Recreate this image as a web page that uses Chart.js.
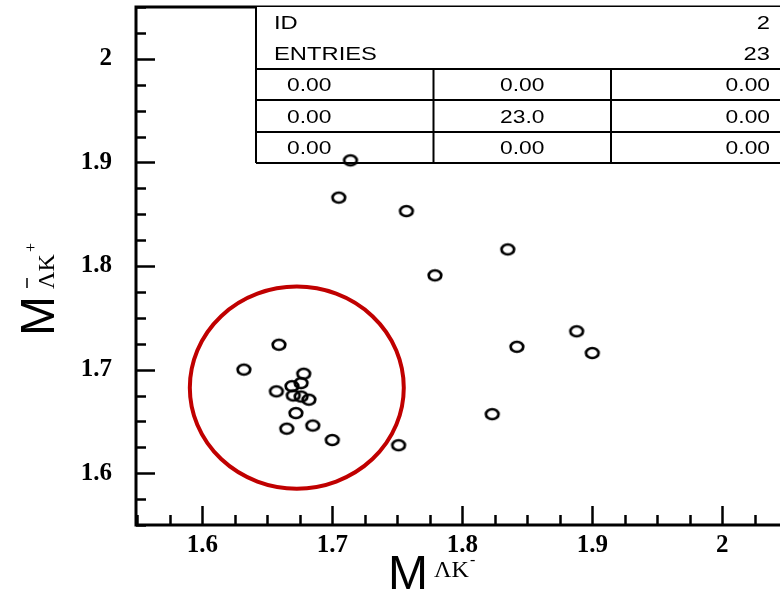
<!DOCTYPE html>
<html>
<head>
<meta charset="utf-8">
<script src="https://cdn.jsdelivr.net/npm/chart.js@4.4.1/dist/chart.umd.min.js"></script>
<style>
  html, body { margin: 0; padding: 0; background: #fff; }
  #wrap { width: 780px; height: 590px; position: relative; }
</style>
</head>
<body>
<div id="wrap"><canvas id="scatter-chart"></canvas></div>
<script>
// Data
const xValues = [1.714, 1.705, 1.757, 1.835, 1.779, 1.888, 1.842, 1.900, 1.823, 1.751,
                 1.659, 1.632, 1.678, 1.669, 1.676, 1.657, 1.670, 1.676, 1.682, 1.672, 1.685, 1.665, 1.700];
const yValues = [1.902, 1.866, 1.853, 1.816, 1.791, 1.737, 1.722, 1.716, 1.657, 1.627,
                 1.724, 1.700, 1.696, 1.684, 1.687, 1.679, 1.675, 1.674, 1.671, 1.658, 1.646, 1.643, 1.632];
const xTicks = [1.6, 1.7, 1.8, 1.9, 2.0];
const xTickLabels = ['1.6', '1.7', '1.8', '1.9', '2'];
const yTicks = [1.6, 1.7, 1.8, 1.9, 2.0];
const yTickLabels = ['1.6', '1.7', '1.8', '1.9', '2'];
const minorStep = 0.025;

// stats box
const statsNames = ['ID', 'ENTRIES'];
const statsValues = ['2', '23'];
const statsGrid = [
    ['0.00', '0.00', '0.00'],
    ['0.00', '23.0', '0.00'],
    ['0.00', '0.00', '0.00']
];

// highlighted region (data units)
const circleCenter = [1.6727, 1.6826];
const circleRadius = [0.0823, 0.0975];

// open elliptic marker like the original
function makeMarker() {
    let c = document.createElement('canvas');
    c.width = 20; c.height = 16;
    let g = c.getContext('2d');
    g.lineWidth = 2.7;
    g.strokeStyle = '#000';
    g.beginPath();
    g.ellipse(10, 8, 6.3, 5, 0, 0, Math.PI * 2);
    g.stroke();
    return c;
}

function stretchedText(ctx, text, x, y, align, sx) {
    ctx.save();
    ctx.translate(x, y);
    ctx.scale(sx, 1);
    ctx.textAlign = align;
    ctx.fillText(text, 0, 0);
    ctx.restore();
}

function noPadding(scale) {
    scale.paddingTop = 0;
    scale.paddingBottom = 0;
    scale.paddingLeft = 0;
    scale.paddingRight = 0;
}

const decorPlugin = {
    id: 'decor',
    beforeDatasetsDraw(chart) {
        const ctx = chart.ctx;
        const a = chart.chartArea;
        const xs = chart.scales.x, ys = chart.scales.y;
        ctx.save();
        ctx.strokeStyle = '#000';
        ctx.lineCap = 'butt';

        // tick marks pointing inward
        ctx.lineWidth = 2.5;
        for (let v = Math.ceil(xs.min / minorStep) * minorStep; v <= xs.max + 1e-9; v += minorStep) {
            let px = Math.round(xs.getPixelForValue(v)) + 0.5;
            let major = Math.abs(v * 10 - Math.round(v * 10)) < 1e-6;
            ctx.beginPath();
            ctx.moveTo(px, a.bottom);
            ctx.lineTo(px, a.bottom - (major ? 19 : 10));
            ctx.stroke();
        }
        for (let v = Math.ceil(ys.min / minorStep) * minorStep; v <= ys.max + 1e-9; v += minorStep) {
            let py = Math.round(ys.getPixelForValue(v)) + 0.5;
            let major = Math.abs(v * 10 - Math.round(v * 10)) < 1e-6;
            ctx.beginPath();
            ctx.moveTo(a.left, py);
            ctx.lineTo(a.left + (major ? 19 : 10), py);
            ctx.stroke();
        }

        // frame
        ctx.lineWidth = 3;
        ctx.beginPath();
        ctx.moveTo(a.right + 2, a.top);
        ctx.lineTo(a.left, a.top);
        ctx.lineTo(a.left, a.bottom);
        ctx.lineTo(a.right + 2, a.bottom);
        ctx.stroke();

        // stats box
        const bx = 256, colW = 177.5;
        const rows = [a.top, 69, 100, 132, 163];
        ctx.fillStyle = '#fff';
        ctx.fillRect(bx, rows[0], 600, rows[4] - rows[0]);
        ctx.lineWidth = 2;
        ctx.beginPath();
        ctx.moveTo(bx, rows[0]);
        ctx.lineTo(bx, rows[4]);
        for (let i = 1; i < rows.length; i++) {
            ctx.moveTo(bx, rows[i]);
            ctx.lineTo(bx + 3 * colW, rows[i]);
        }
        for (let j = 1; j < 3; j++) {
            ctx.moveTo(bx + j * colW, rows[1]);
            ctx.lineTo(bx + j * colW, rows[4]);
        }
        ctx.stroke();

        ctx.fillStyle = '#000';
        ctx.font = '19px "Liberation Sans", Arial, sans-serif';
        ctx.textBaseline = 'alphabetic';
        const nameBase = [29, 60];
        statsNames.forEach((n, i) => {
            stretchedText(ctx, n, 274, nameBase[i], 'left', 1.25);
            stretchedText(ctx, statsValues[i], 770, nameBase[i], 'right', 1.25);
        });
        const rowBase = [91, 123, 154];
        statsGrid.forEach((r, i) => {
            stretchedText(ctx, r[0], 287, rowBase[i], 'left', 1.2);
            stretchedText(ctx, r[1], bx + 1.5 * colW, rowBase[i], 'center', 1.2);
            stretchedText(ctx, r[2], 770, rowBase[i], 'right', 1.2);
        });

        // red circle
        const cx = xs.getPixelForValue(circleCenter[0]);
        const cy = ys.getPixelForValue(circleCenter[1]);
        const rx = xs.getPixelForValue(circleCenter[0] + circleRadius[0]) - cx;
        const ry = cy - ys.getPixelForValue(circleCenter[1] + circleRadius[1]);
        ctx.strokeStyle = '#c00000';
        ctx.lineWidth = 4;
        ctx.beginPath();
        ctx.ellipse(cx, cy, rx, ry, 0, 0, Math.PI * 2);
        ctx.stroke();
        ctx.restore();
    },
    afterDraw(chart) {
        const ctx = chart.ctx;
        ctx.save();
        ctx.fillStyle = '#000';
        ctx.strokeStyle = '#000';
        ctx.textBaseline = 'alphabetic';
        ctx.textAlign = 'left';

        // x title: M with Lambda K- subscript
        ctx.font = '48px "Liberation Sans", Arial, sans-serif';
        ctx.fillText('M', 388, 589);
        ctx.font = '24px "Liberation Serif", "Times New Roman", serif';
        ctx.fillText('\u039BK', 434, 577);
        ctx.font = '16px "Liberation Serif", serif';
        ctx.fillText('-', 470, 565);

        // y title, rotated
        ctx.translate(54, 336);
        ctx.rotate(-Math.PI / 2);
        ctx.font = '48px "Liberation Sans", Arial, sans-serif';
        ctx.fillText('M', 0, 0);
        ctx.font = '24px "Liberation Serif", "Times New Roman", serif';
        ctx.fillText('\u039BK', 47, 0);
        ctx.lineWidth = 1.5;
        ctx.beginPath();
        ctx.moveTo(48, -27);
        ctx.lineTo(58, -27);
        ctx.stroke();
        ctx.font = '16px "Liberation Serif", serif';
        ctx.fillText('+', 84, -18);
        ctx.restore();
    }
};

const tickFont = { family: '"Liberation Serif", "Times New Roman", serif', size: 25, weight: 'bold' };

new Chart(document.getElementById('scatter-chart'), {
    type: 'scatter',
    data: {
        datasets: [{
            data: xValues.map((x, i) => ({ x: x, y: yValues[i] })),
            pointStyle: makeMarker(),
            pointRadius: 6,
            pointHoverRadius: 6
        }]
    },
    options: {
        responsive: true,
        maintainAspectRatio: false,
        animation: false,
        events: [],
        layout: { autoPadding: false, padding: { top: 7, right: 0, left: 0, bottom: 0 } },
        plugins: { legend: { display: false }, tooltip: { enabled: false } },
        scales: {
            x: {
                type: 'linear',
                min: 1.549,
                max: 2.0444,
                grid: { display: false, drawTicks: false },
                border: { display: false },
                afterBuildTicks: function(scale) {
                    scale.ticks = xTicks.map(v => ({ value: v }));
                },
                afterFit: function(scale) { scale.height = 65; noPadding(scale); },
                ticks: {
                    color: '#000',
                    font: tickFont,
                    padding: 6,
                    maxRotation: 0,
                    callback: function(value, index) { return xTickLabels[index]; }
                }
            },
            y: {
                type: 'linear',
                min: 1.55,
                max: 2.05,
                grid: { display: false, drawTicks: false },
                border: { display: false },
                afterBuildTicks: function(scale) {
                    scale.ticks = yTicks.map(v => ({ value: v }));
                },
                afterFit: function(scale) { scale.width = 136; noPadding(scale); },
                ticks: {
                    color: '#000',
                    font: tickFont,
                    padding: 24,
                    callback: function(value, index) { return yTickLabels[index]; }
                }
            }
        }
    },
    plugins: [decorPlugin]
});
</script>
</body>
</html>
